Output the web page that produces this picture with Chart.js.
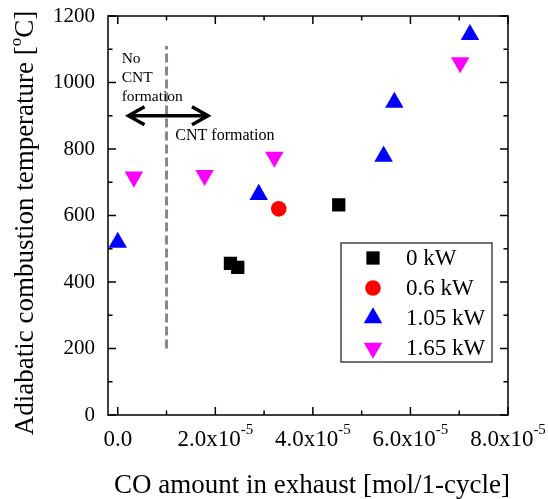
<!DOCTYPE html>
<html>
<head>
<meta charset="utf-8">
<script src="https://cdn.jsdelivr.net/npm/chart.js@4.4.1/dist/chart.umd.min.js"></script>
<style>
  body { margin: 0; background: #fff; }
  #wrap { width: 548px; height: 499px; }
</style>
</head>
<body>
<div id="wrap"><canvas id="myChart"></canvas></div>
<script>
// data
const kw0X = [2.31e-5, 2.46e-5, 4.53e-5];
const kw0Y = [456, 444, 632];
const kw06X = [3.30e-5];
const kw06Y = [620];
const kw105X = [0.0, 2.89e-5, 5.45e-5, 5.67e-5, 7.22e-5];
const kw105Y = [519, 663, 778, 940, 1144];
const kw165X = [0.33e-5, 1.78e-5, 3.21e-5, 7.02e-5];
const kw165Y = [716, 721, 776, 1060];

const seriesNames = ['0 kW', '0.6 kW', '1.05 kW', '1.65 kW'];

// CNT formation boundary and arrow
const boundaryX = [1e-5, 1e-5];
const boundaryY = [200, 1110];
const arrowX = [0.2e-5, 1.87e-5];
const arrowY = 900;

// axis ticks
const xMajor = [0, 2e-5, 4e-5, 6e-5, 8e-5];
const xMinor = [1e-5, 3e-5, 5e-5, 7e-5];
const xTickText = ['0.0', '2.0x10', '4.0x10', '6.0x10', '8.0x10'];
const xTickExp = ['', '-5', '-5', '-5', '-5'];
const yMajor = [0, 200, 400, 600, 800, 1000, 1200];
const yMinor = [100, 300, 500, 700, 900, 1100];

const serif = "'Liberation Serif', 'Times New Roman', serif";

function pts(xs, ys) {
  return xs.map((x, i) => ({ x: x, y: ys[i] }));
}

const decorations = {
  id: 'decorations',
  afterDraw(chart) {
    const ctx = chart.ctx;
    const xs = chart.scales.x, ys = chart.scales.y;
    const a = chart.chartArea;
    ctx.save();

    // frame
    ctx.strokeStyle = '#000';
    ctx.lineWidth = 1.5;
    ctx.strokeRect(a.left, a.top, a.right - a.left, a.bottom - a.top);

    // inner ticks on all sides
    ctx.beginPath();
    xMajor.concat(xMinor).forEach((v, i) => {
      const len = i < xMajor.length ? 8 : 4.5;
      const px = xs.getPixelForValue(v);
      ctx.moveTo(px, a.bottom); ctx.lineTo(px, a.bottom - len);
      ctx.moveTo(px, a.top); ctx.lineTo(px, a.top + len);
    });
    yMajor.concat(yMinor).forEach((v, i) => {
      const len = i < yMajor.length ? 8 : 4.5;
      const py = ys.getPixelForValue(v);
      ctx.moveTo(a.left, py); ctx.lineTo(a.left + len, py);
      ctx.moveTo(a.right, py); ctx.lineTo(a.right - len, py);
    });
    ctx.stroke();

    // tick labels
    ctx.fillStyle = '#000';
    ctx.textBaseline = 'middle';
    ctx.font = '21px ' + serif;
    ctx.textAlign = 'right';
    yMajor.forEach(v => ctx.fillText(String(v), a.left - 13, ys.getPixelForValue(v)));

    ctx.textAlign = 'left';
    xMajor.forEach((v, i) => {
      ctx.font = '23px ' + serif;
      const w1 = ctx.measureText(xTickText[i]).width;
      ctx.font = '15px ' + serif;
      const w2 = xTickExp[i] ? ctx.measureText(xTickExp[i]).width : 0;
      const x0 = xs.getPixelForValue(v) - (w1 + w2) / 2;
      const y0 = a.bottom + 25;
      ctx.font = '23px ' + serif;
      ctx.fillText(xTickText[i], x0, y0);
      if (xTickExp[i]) {
        ctx.font = '15px ' + serif;
        ctx.fillText(xTickExp[i], x0 + w1, y0 - 10);
      }
    });

    // axis titles
    ctx.font = '27px ' + serif;
    ctx.textAlign = 'center';
    ctx.fillText('CO amount in exhaust [mol/1-cycle]', 312, 486);

    ctx.save();
    ctx.translate(26, 223);
    ctx.rotate(-Math.PI / 2);
    const t1 = 'Adiabatic combustion temperature [', t2 = 'o', t3 = 'C]';
    ctx.font = '27px ' + serif;
    const w1 = ctx.measureText(t1).width, w3 = ctx.measureText(t3).width;
    ctx.font = '17px ' + serif;
    const w2 = ctx.measureText(t2).width;
    const sx = -(w1 + w2 + w3) / 2;
    ctx.textAlign = 'left';
    ctx.font = '27px ' + serif;
    ctx.fillText(t1, sx, 0);
    ctx.font = '17px ' + serif;
    ctx.fillText(t2, sx + w1, -9);
    ctx.font = '27px ' + serif;
    ctx.fillText(t3, sx + w1 + w2, 0);
    ctx.restore();

    // double arrow
    const ax1 = xs.getPixelForValue(arrowX[0]), ax2 = xs.getPixelForValue(arrowX[1]);
    const ay = ys.getPixelForValue(arrowY);
    ctx.strokeStyle = '#000';
    ctx.lineWidth = 3.5;
    ctx.beginPath();
    ctx.moveTo(ax1 + 2, ay); ctx.lineTo(ax2 - 2, ay);
    ctx.moveTo(ax1 + 17, ay - 9); ctx.lineTo(ax1 + 1, ay); ctx.lineTo(ax1 + 17, ay + 9);
    ctx.moveTo(ax2 - 17, ay - 9); ctx.lineTo(ax2 - 1, ay); ctx.lineTo(ax2 - 17, ay + 9);
    ctx.stroke();

    // annotation text
    ctx.font = '15.5px ' + serif;
    ctx.textAlign = 'left';
    ctx.fillStyle = '#000';
    const tx = xs.getPixelForValue(0.08e-5);
    ['No', 'CNT', 'formation'].forEach((s, i) => ctx.fillText(s, tx, ys.getPixelForValue(1070) + i * 19));
    ctx.font = '16px ' + serif;
    ctx.fillText('CNT formation', xs.getPixelForValue(1.18e-5), ys.getPixelForValue(840));

    // legend
    const lx = 341, ly = 243, lw = 151, lh = 119;
    ctx.strokeStyle = '#444';
    ctx.lineWidth = 1.5;
    ctx.strokeRect(lx, ly, lw, lh);
    chart.data.datasets.forEach((ds, i) => {
      if (i >= seriesNames.length) return;
      const rowY = ly + 15 + i * 30;
      ctx.fillStyle = ds.backgroundColor;
      ctx.strokeStyle = ds.borderColor;
      Chart.helpers.drawPoint(ctx, {
        pointStyle: ds.pointStyle, radius: ds.pointRadius,
        rotation: ds.rotation || 0, borderWidth: 0
      }, lx + 32, rowY);
      ctx.fillStyle = '#000';
      ctx.font = '23px ' + serif;
      ctx.textAlign = 'left';
      ctx.textBaseline = 'middle';
      ctx.fillText(seriesNames[i], lx + 65, rowY + 1);
    });

    ctx.restore();
  }
};

const ctx = document.getElementById('myChart').getContext('2d');
new Chart(ctx, {
  type: 'scatter',
  data: {
    datasets: [
      { label: seriesNames[0], data: pts(kw0X, kw0Y), pointStyle: 'rect', pointRadius: 9.4,
        backgroundColor: '#000000', borderColor: '#000000', borderWidth: 0 },
      { label: seriesNames[1], data: pts(kw06X, kw06Y), pointStyle: 'circle', pointRadius: 7.8,
        backgroundColor: '#ff0000', borderColor: '#ff0000', borderWidth: 0 },
      { label: seriesNames[2], data: pts(kw105X, kw105Y), pointStyle: 'triangle', pointRadius: 10.7,
        backgroundColor: '#0000ff', borderColor: '#0000ff', borderWidth: 0 },
      { label: seriesNames[3], data: pts(kw165X, kw165Y), pointStyle: 'triangle', pointRadius: 10.7,
        rotation: 180, backgroundColor: '#ff00ff', borderColor: '#ff00ff', borderWidth: 0 },
      { label: 'boundary', type: 'line', data: pts(boundaryX, boundaryY), order: 5,
        borderColor: '#888888', borderWidth: 3, borderDash: [9, 4], pointRadius: 0, fill: false }
    ]
  },
  options: {
    responsive: true,
    maintainAspectRatio: false,
    animation: false,
    layout: { padding: { left: 108, right: 40, top: 16, bottom: 84 } },
    plugins: { legend: { display: false }, tooltip: { enabled: false } },
    scales: {
      x: { type: 'linear', min: -0.2e-5, max: 8e-5, display: false },
      y: { type: 'linear', min: 0, max: 1200, display: false }
    }
  },
  plugins: [decorations]
});
</script>
</body>
</html>
